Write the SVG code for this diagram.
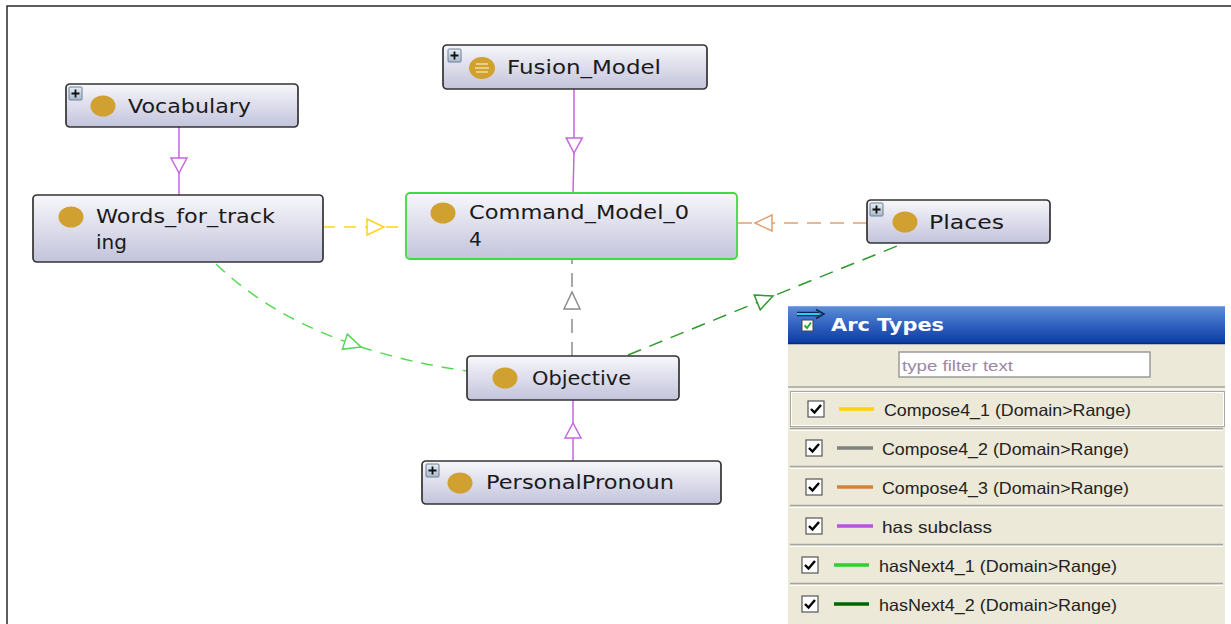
<svg xmlns="http://www.w3.org/2000/svg" width="1231" height="624" viewBox="0 0 1231 624">
<style>
.node{fill:url(#ng);stroke:#333333;stroke-width:1.7}
.sel{fill:url(#ng);stroke:#3fdc3f;stroke-width:1.8}
.lbl{font-family:"DejaVu Sans",Verdana,sans-serif;font-size:20px;fill:#1a1a1a}
.dot{fill:#d0a030}
.plus{fill:url(#pg);stroke:#6a7f95;stroke-width:1}
.plusl{stroke:#111;stroke-width:1.8}
.e{fill:none;stroke-width:1.5}
.sub{stroke:#c566e0}
.yel{stroke:#ffd21e;stroke-dasharray:12 9}
.gry{stroke:#8c8c8c;stroke-dasharray:14 9}
.org{stroke:#e0a070;stroke-dasharray:14 9}
.lgr{stroke:#55d855;stroke-dasharray:12 9}
.dgr{stroke:#2e9a2e;stroke-dasharray:14 9}
.lt{font-family:"Liberation Sans",Arial,sans-serif;font-size:16.5px;fill:#222}
.cb{fill:#fff;stroke:#555;stroke-width:1.2}
.ck{fill:none;stroke:#000;stroke-width:2.4}
.sep{stroke:#a5a5a0;stroke-width:1.5}
.sepw{stroke:#ffffff;stroke-width:1}
</style>
<defs>
<linearGradient id="ng" x1="0" y1="0" x2="0" y2="1">
<stop offset="0" stop-color="#f7f7fb"/>
<stop offset="1" stop-color="#c3c3dc"/>
</linearGradient>
<linearGradient id="pg" x1="0" y1="0" x2="0" y2="1">
<stop offset="0" stop-color="#e8eef5"/>
<stop offset="1" stop-color="#a9b9cb"/>
</linearGradient>
<linearGradient id="tb" x1="0" y1="0" x2="0" y2="1">
<stop offset="0" stop-color="#5d8ed8"/>
<stop offset="0.55" stop-color="#2c5ebe"/>
<stop offset="1" stop-color="#0b3a9e"/>
</linearGradient>
<marker id="mSub" viewBox="-17 -10 19 20" refX="0" refY="0" markerWidth="19" markerHeight="20" markerUnits="userSpaceOnUse" orient="auto">
<path d="M-15,-8 L0,0 L-15,8 Z" fill="#fff" stroke="#c566e0" stroke-width="1.5"/>
</marker>
<marker id="mYel" viewBox="-19 -10 21 20" refX="0" refY="0" markerWidth="21" markerHeight="20" markerUnits="userSpaceOnUse" orient="auto">
<path d="M-17,-8 L0,0 L-17,8 Z" fill="#fff" stroke="#ffd21e" stroke-width="1.5"/>
</marker>
<marker id="mGry" viewBox="-19 -10 21 20" refX="0" refY="0" markerWidth="21" markerHeight="20" markerUnits="userSpaceOnUse" orient="auto">
<path d="M-17,-8 L0,0 L-17,8 Z" fill="#fff" stroke="#8c8c8c" stroke-width="1.5"/>
</marker>
<marker id="mOrg" viewBox="-19 -10 21 20" refX="0" refY="0" markerWidth="21" markerHeight="20" markerUnits="userSpaceOnUse" orient="auto">
<path d="M-17,-8 L0,0 L-17,8 Z" fill="#fff" stroke="#e0a070" stroke-width="1.5"/>
</marker>
<marker id="mLgr" viewBox="-19 -10 21 20" refX="0" refY="0" markerWidth="21" markerHeight="20" markerUnits="userSpaceOnUse" orient="auto">
<path d="M-17,-8 L0,0 L-17,8 Z" fill="#fff" stroke="#55d855" stroke-width="1.5"/>
</marker>
<marker id="mDgr" viewBox="-19 -10 21 20" refX="0" refY="0" markerWidth="21" markerHeight="20" markerUnits="userSpaceOnUse" orient="auto">
<path d="M-17,-8 L0,0 L-17,8 Z" fill="#fff" stroke="#2e9a2e" stroke-width="1.5"/>
</marker>
</defs>

<rect x="0" y="0" width="1231" height="624" fill="#ffffff"/>
<path d="M7,624 L7,6 L1231,6" fill="none" stroke="#2a2a2a" stroke-width="1.5"/>

<g id="connectors">
<path class="e sub" d="M179,127 L179,173 L179,195" marker-mid="url(#mSub)"/>
<path class="e sub" d="M574,89 L574,153 L573,193" marker-mid="url(#mSub)"/>
<path class="e sub" d="M573,461 L573,423 L573,400" marker-mid="url(#mSub)"/>
<path class="e yel" d="M323,227 L384,227 L406,227" marker-mid="url(#mYel)"/>
<path class="e org" d="M867,223 L755,223 L737,223" marker-mid="url(#mOrg)"/>
<path class="e gry" d="M572,356 L572,292 L572,259" marker-mid="url(#mGry)"/>
<path class="e lgr" d="M216,264 Q272,318 361,347 Q410,363 467,371" marker-mid="url(#mLgr)"/>
<path class="e dgr" d="M628,355 L773,296 L902,244" marker-mid="url(#mDgr)"/>
</g>

<g id="node-vocabulary">
<rect class="node" x="66" y="84" width="232" height="43" rx="4"/>
<rect class="plus" x="69" y="87" width="13" height="13" rx="1"/>
<path class="plusl" d="M71.5,93.5 H79.5 M75.5,89.5 V97.5"/>
<ellipse class="dot" cx="103" cy="106" rx="12.5" ry="10.5"/>
<text class="lbl" x="128" y="113" textLength="123" lengthAdjust="spacingAndGlyphs">Vocabulary</text>
</g>

<g id="node-words">
<rect class="node" x="33" y="195" width="290" height="67" rx="4"/>
<ellipse class="dot" cx="71" cy="217" rx="12.5" ry="10.5"/>
<text class="lbl" x="96" y="223" textLength="179" lengthAdjust="spacingAndGlyphs">Words_for_track</text>
<text class="lbl" x="96" y="249" textLength="31" lengthAdjust="spacingAndGlyphs">ing</text>
</g>

<g id="node-fusion">
<rect class="node" x="443" y="45" width="264" height="44" rx="4"/>
<rect class="plus" x="448" y="49" width="13" height="13" rx="1"/>
<path class="plusl" d="M450.5,55.5 H458.5 M454.5,51.5 V59.5"/>
<ellipse class="dot" cx="482" cy="68" rx="13" ry="11"/>
<path d="M476,64 H488 M475,68 H489 M476,72 H488" stroke="#f3dc9a" stroke-width="1.6"/>
<text class="lbl" x="507" y="74" textLength="154" lengthAdjust="spacingAndGlyphs">Fusion_Model</text>
</g>

<g id="node-command">
<rect class="sel" x="406" y="193" width="331" height="66" rx="4"/>
<ellipse class="dot" cx="443" cy="213" rx="12.5" ry="10.5"/>
<text class="lbl" x="469" y="219" textLength="220" lengthAdjust="spacingAndGlyphs">Command_Model_0</text>
<text class="lbl" x="469" y="246">4</text>
</g>

<g id="node-places">
<rect class="node" x="867" y="200" width="183" height="43" rx="4"/>
<rect class="plus" x="870" y="203" width="13" height="13" rx="1"/>
<path class="plusl" d="M872.5,209.5 H880.5 M876.5,205.5 V213.5"/>
<ellipse class="dot" cx="905" cy="222" rx="12.5" ry="10.5"/>
<text class="lbl" x="929" y="229" textLength="75" lengthAdjust="spacingAndGlyphs">Places</text>
</g>

<g id="node-objective">
<rect class="node" x="467" y="356" width="212" height="44" rx="4"/>
<ellipse class="dot" cx="505" cy="378" rx="12.5" ry="10.5"/>
<text class="lbl" x="532" y="385" textLength="99" lengthAdjust="spacingAndGlyphs">Objective</text>
</g>

<g id="node-pronoun">
<rect class="node" x="422" y="461" width="299" height="43" rx="4"/>
<rect class="plus" x="426" y="464" width="13" height="13" rx="1"/>
<path class="plusl" d="M428.5,470.5 H436.5 M432.5,466.5 V474.5"/>
<ellipse class="dot" cx="460" cy="483" rx="12.5" ry="10.5"/>
<text class="lbl" x="486" y="489" textLength="188" lengthAdjust="spacingAndGlyphs">PersonalPronoun</text>
</g>

<g id="legend">
<rect x="788" y="344" width="437" height="280" fill="#ece9d8"/>
<rect x="788" y="306" width="437" height="38" fill="url(#tb)"/>
<line x1="788" y1="306.5" x2="1225" y2="306.5" stroke="#7ea6e6" stroke-width="1"/>
<line x1="788" y1="343.5" x2="1225" y2="343.5" stroke="#002a88" stroke-width="1.5"/>
<path d="M797,314 H819" stroke="#0a2a50" stroke-width="4.5"/>
<path d="M797,314 H819" stroke="#2ad0f0" stroke-width="2"/>
<path d="M816,309.5 L824,314 L816,318.5" fill="none" stroke="#0a2a50" stroke-width="1.5"/>
<rect x="802" y="320" width="11" height="11" fill="#fff" stroke="#444" stroke-width="1"/>
<path d="M804.5,325.5 L807,328 L811,322.5" fill="none" stroke="#22aa22" stroke-width="1.8"/>
<text x="831" y="331" font-family="'DejaVu Sans',Verdana,sans-serif" font-weight="bold" font-size="18.5" fill="#ffffff" textLength="113" lengthAdjust="spacingAndGlyphs">Arc Types</text>
<rect x="899" y="352" width="251" height="25" fill="#ffffff" stroke="#9a9a9a" stroke-width="1.5"/>
<text x="902" y="371" font-family="'Liberation Sans',Arial,sans-serif" font-size="15.5" fill="#9a88a4" textLength="111" lengthAdjust="spacingAndGlyphs">type filter text</text>
<line class="sep" x1="788" y1="387" x2="1225" y2="387"/>
<line class="sepw" x1="788" y1="389" x2="1225" y2="389"/>
<rect x="790.5" y="391.5" width="434" height="35" fill="none" stroke="#a8a8a4" stroke-width="1"/>
<rect x="791.5" y="392.5" width="432" height="33" fill="none" stroke="#ffffff" stroke-width="1"/>
<line class="sep" x1="790" y1="428.5" x2="1223" y2="428.5"/>
<line class="sepw" x1="790" y1="430.5" x2="1223" y2="430.5"/>
<line class="sep" x1="790" y1="466.5" x2="1223" y2="466.5"/>
<line class="sepw" x1="790" y1="468.5" x2="1223" y2="468.5"/>
<line class="sep" x1="790" y1="505.5" x2="1223" y2="505.5"/>
<line class="sepw" x1="790" y1="507.5" x2="1223" y2="507.5"/>
<line class="sep" x1="790" y1="544.5" x2="1223" y2="544.5"/>
<line class="sepw" x1="790" y1="546.5" x2="1223" y2="546.5"/>
<line class="sep" x1="790" y1="583.5" x2="1223" y2="583.5"/>
<line class="sepw" x1="790" y1="585.5" x2="1223" y2="585.5"/>

<g id="leg-row1">
<rect class="cb" x="808" y="401" width="16" height="16"/>
<path class="ck" d="M811,409 L814.5,412.5 L821,405"/>
<line x1="839" y1="409" x2="874" y2="409" stroke="#ffd200" stroke-width="3.5"/>
<text class="lt" x="884" y="416" textLength="247" lengthAdjust="spacingAndGlyphs">Compose4_1 (Domain&gt;Range)</text>
</g>
<g id="leg-row2">
<rect class="cb" x="806" y="440" width="16" height="16"/>
<path class="ck" d="M809,448 L812.5,451.5 L819,444"/>
<line x1="837" y1="448" x2="873" y2="448" stroke="#808080" stroke-width="3.5"/>
<text class="lt" x="882" y="455" textLength="247" lengthAdjust="spacingAndGlyphs">Compose4_2 (Domain&gt;Range)</text>
</g>
<g id="leg-row3">
<rect class="cb" x="806" y="479" width="16" height="16"/>
<path class="ck" d="M809,487 L812.5,490.5 L819,483"/>
<line x1="837" y1="487" x2="873" y2="487" stroke="#d2843c" stroke-width="3.5"/>
<text class="lt" x="882" y="494" textLength="247" lengthAdjust="spacingAndGlyphs">Compose4_3 (Domain&gt;Range)</text>
</g>
<g id="leg-row4">
<rect class="cb" x="806" y="518" width="16" height="16"/>
<path class="ck" d="M809,526 L812.5,529.5 L819,522"/>
<line x1="837" y1="526" x2="873" y2="526" stroke="#b955d8" stroke-width="3.5"/>
<text class="lt" x="882" y="533" textLength="110" lengthAdjust="spacingAndGlyphs">has subclass</text>
</g>
<g id="leg-row5">
<rect class="cb" x="802" y="557" width="16" height="16"/>
<path class="ck" d="M805,565 L808.5,568.5 L815,561"/>
<line x1="834" y1="565" x2="869" y2="565" stroke="#33cc33" stroke-width="3.5"/>
<text class="lt" x="879" y="572" textLength="238" lengthAdjust="spacingAndGlyphs">hasNext4_1 (Domain&gt;Range)</text>
</g>
<g id="leg-row6">
<rect class="cb" x="802" y="596" width="16" height="16"/>
<path class="ck" d="M805,604 L808.5,607.5 L815,600"/>
<line x1="834" y1="604" x2="869" y2="604" stroke="#006600" stroke-width="3.5"/>
<text class="lt" x="879" y="611" textLength="238" lengthAdjust="spacingAndGlyphs">hasNext4_2 (Domain&gt;Range)</text>
</g>
</g>
</svg>
